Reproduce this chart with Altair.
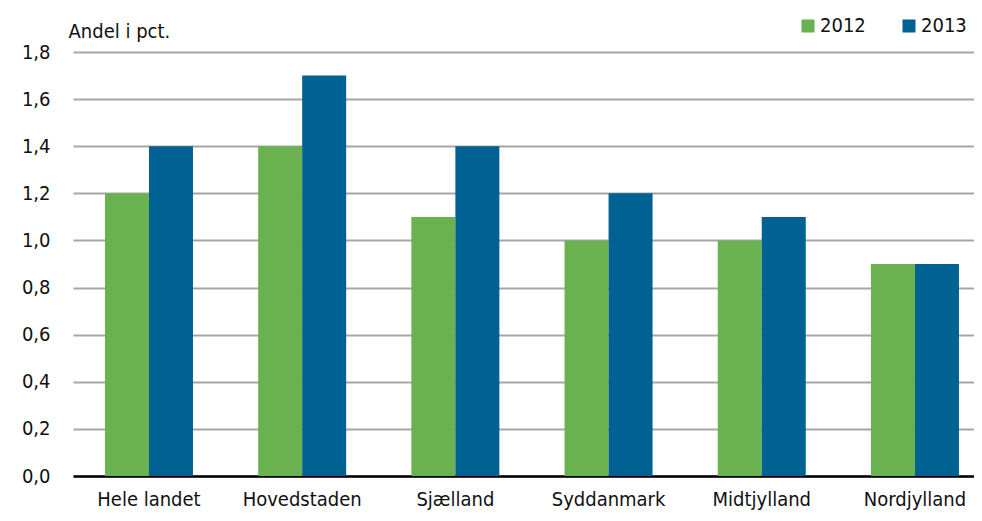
import altair as alt
import pandas as pd

regions = ["Hele landet", "Hovedstaden", "Sjælland", "Syddanmark", "Midtjylland", "Nordjylland"]
years = ["2012", "2013"]
v2012 = [1.2, 1.4, 1.1, 1.0, 1.0, 0.9]
v2013 = [1.4, 1.7, 1.4, 1.2, 1.1, 0.9]
colors = ["#6ab150", "#006292"]

rows = []
for i, r in enumerate(regions):
    rows.append({"region": r, "year": "2012", "value": v2012[i]})
    rows.append({"region": r, "year": "2013", "value": v2013[i]})
df = pd.DataFrame(rows)

FONT = "Liberation Sans Narrow, Arial Narrow, DejaVu Sans Condensed, sans-serif"

chart = alt.Chart(df).mark_bar().encode(
    x=alt.X("region:N", sort=regions, title=None,
            scale=alt.Scale(paddingInner=0.4256, paddingOuter=0.1535, align=0.68),
            axis=alt.Axis(labelAngle=0, labelFontSize=20, labelFont=FONT, labelColor="#111",
                          labelPadding=13, ticks=False, domainColor="#000", domainWidth=2.5)),
    xOffset=alt.XOffset("year:N", sort=years, scale=alt.Scale(paddingInner=0, paddingOuter=0)),
    y=alt.Y("value:Q", scale=alt.Scale(domain=[0, 1.8], nice=False),
            axis=alt.Axis(values=[0, 0.2, 0.4, 0.6, 0.8, 1.0, 1.2, 1.4, 1.6, 1.8],
                          labelExpr="replace(format(datum.value, '.1f'), '.', ',')",
                          labelFontSize=20, labelFont=FONT, labelColor="#111", labelPadding=23,
                          ticks=False, domain=False, grid=True, gridColor="#a6a6a6", gridWidth=2,
                          title="Andel i pct.", titleAngle=0, titleAlign="left", titleX=-5, titleY=-15,
                          titleBaseline="alphabetic", titleFont=FONT, titleFontSize=20,
                          titleFontWeight="normal", titleColor="#111")),
    color=alt.Color("year:N", sort=years, scale=alt.Scale(domain=years, range=colors),
                    legend=alt.Legend(title=None, orient="none", legendX=725, legendY=-36,
                                      direction="horizontal", symbolType="square", symbolSize=169,
                                      symbolStrokeWidth=0, labelFontSize=20, labelFont=FONT,
                                      labelColor="#111", labelOffset=2, columnPadding=33, padding=0)),
).properties(
    width=901, height=424,
    autosize=alt.AutoSizeParams(type="none"),
    padding={"left": 65, "top": 44, "right": 0, "bottom": 37},
).configure_view(stroke=None).configure_axis(gridOpacity=1)

chart.save("out.html", embed_options={"renderer": "svg", "actions": False})
